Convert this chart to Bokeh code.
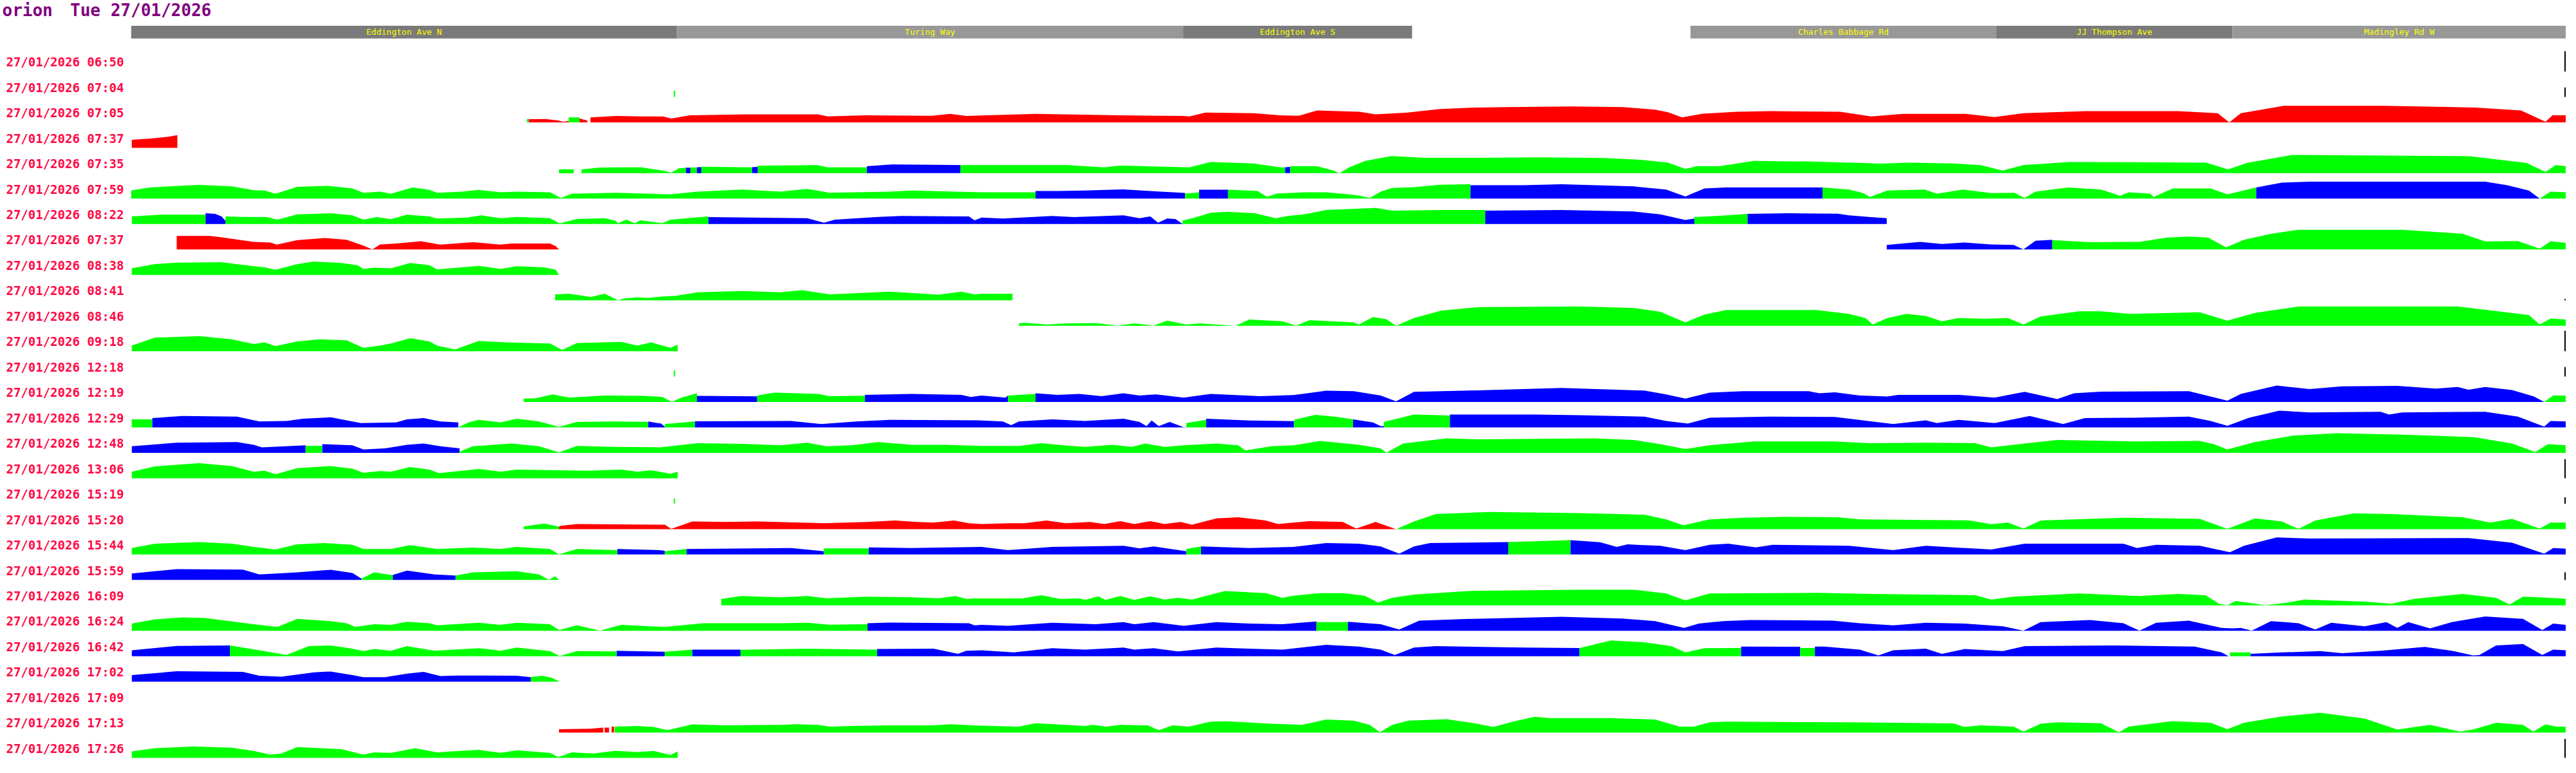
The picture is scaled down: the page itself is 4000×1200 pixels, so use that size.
from bokeh.plotting import figure
from bokeh.models import Range1d
from bokeh.core.properties import value
from bokeh.embed import file_html
from bokeh.resources import INLINE

TITLE_HOST = "orion"
TITLE_DATE = "Tue 27/01/2026"

ROADS = ["Eddington Ave N", "Turing Way", "Eddington Ave S",
         "Charles Babbage Rd", "JJ Thompson Ave", "Madingley Rd W"]
ROAD_START = [204, 1055, 1844, 2635, 3112, 3480]
ROAD_END = [1055, 1844, 2201, 3112, 3480, 4000]
ROAD_SHADE = ["dark", "light", "dark", "light", "dark", "light"]

TIMES = ["06:50", "07:04", "07:05", "07:37", "07:35", "07:59", "08:22", "07:37",
         "08:38", "08:41", "08:46", "09:18", "12:18", "12:19", "12:29", "12:48",
         "13:06", "15:19", "15:20", "15:44", "15:59", "16:09", "16:24", "16:42",
         "17:02", "17:09", "17:13", "17:26"]
DATE = "27/01/2026"

# height of the thin end-of-route marker drawn at the right edge for each row (0 = none)
EDGE_MARK = [32, 15, 0, 0, 0, 0, 0, 0, 0, 2, 0, 32, 15, 0, 0, 0,
             30, 10, 0, 0, 12, 0, 0, 0, 0, 0, 0, 30]

# each run: (colour, [(distance_px, height_px), ...])
ROW_0650 = []
ROW_0704 = [("g", [(1050, 10), (1052, 10)])]
ROW_0705 = [
    ("g", [(821, 5.3), (824, 5.3)]),
    ("r", [(824, 5), (850, 5.3), (870, 3), (877, 1), (886, 2)]),
    ("g", [(886, 7.7), (903, 7.7)]),
    ("r", [(903, 6), (915, 3)]),
    ("r", [(920, 7.7), (961, 10), (1000, 9.3), (1033, 9.3), (1046, 6), (1075, 11), (1166, 12.7),
           (1274, 12.7), (1290, 9.3), (1348, 11), (1452, 10.3), (1481, 13.3), (1506, 10), (1614, 13.3),
           (1746, 11), (1844, 10), (1854, 9.3), (1879, 15.3), (1954, 14.3), (1995, 11), (2024, 10.3),
           (2053, 18.7), (2119, 16.7), (2144, 12.7), (2194, 15.3), (2244, 21), (2300, 23.3), (2350, 24),
           (2450, 25), (2530, 24), (2580, 20), (2600, 16), (2622, 7.7), (2654, 13.7), (2707, 16.7),
           (2761, 17.7), (2868, 16.7), (2917, 9.3), (2966, 13.3), (3064, 13.3), (3109, 8.3), (3154, 14.3),
           (3252, 17.7), (3395, 17.7), (3457, 14.3), (3475, 0), (3493, 14.3), (3560, 26), (3716, 26),
           (3859, 23.3), (3930, 18.7), (3968, 1), (3979, 11), (4000, 11)]),
]
ROW_0737A = [("r", [(205, 12.7), (220, 13.5), (235, 14.5), (250, 16), (262, 17.5), (276, 20)])]
ROW_0735 = [
    ("g", [(871, 6), (894, 6)]),
    ("g", [(906, 6), (933, 8.7), (961, 9.3), (1000, 9.3), (1037, 3.3), (1046, 1), (1058, 7.7), (1069, 8.7)]),
    ("b", [(1069, 8.7), (1076, 8.7)]),
    ("g", [(1076, 9), (1086, 9)]),
    ("b", [(1086, 9.5), (1093, 9.5)]),
    ("g", [(1093, 10.3), (1166, 9.3), (1172, 9.5)]),
    ("b", [(1172, 9.5), (1181, 10)]),
    ("g", [(1181, 11.7), (1274, 12.7), (1290, 9.3), (1351, 9.3)]),
    ("b", [(1351, 11), (1390, 13.7), (1450, 13.3), (1497, 12.7)]),
    ("g", [(1497, 12.7), (1663, 12.7), (1721, 9.3), (1746, 12), (1854, 9.3), (1887, 17.7), (1954, 15.3),
           (1995, 9.3), (2003, 9.3)]),
    ("b", [(2003, 9.3), (2011, 10)]),
    ("g", [(2011, 11), (2053, 11), (2078, 4.3), (2088, 0), (2103, 9.3), (2128, 19.3), (2169, 27),
           (2219, 24.3), (2300, 24.3), (2400, 25), (2500, 24), (2560, 21), (2600, 16.7), (2627, 6.7),
           (2645, 11), (2680, 11), (2734, 19.3), (2823, 18.3), (2904, 16), (2930, 15), (2975, 16.7),
           (3046, 15.3), (3087, 12.7), (3122, 4.3), (3154, 12.7), (3225, 17.7), (3439, 16.7), (3473, 6),
           (3502, 16), (3573, 28.7), (3850, 26.7), (3939, 16), (3968, 2), (3984, 12.7), (4000, 11)]),
]
ROW_0759 = [
    ("g", [(204, 12.7), (233, 17.7), (310, 21.7), (361, 19.3), (395, 13.3), (412, 12.7), (429, 7.7),
           (463, 18.7), (510, 20), (549, 16), (566, 9.3), (592, 11), (609, 7.7), (643, 17.7), (668, 14),
           (681, 9.3), (720, 11), (745, 13.7), (780, 10), (805, 11), (857, 10), (874, 1), (891, 7.7),
           (959, 9.3), (1045, 6.7), (1087, 11), (1156, 14.3), (1216, 11), (1258, 15.3), (1293, 9.3),
           (1387, 11), (1421, 12.7), (1489, 11), (1530, 10), (1571, 10), (1614, 10)]),
    ("b", [(1614, 12), (1650, 12), (1691, 12.7), (1750, 14.5), (1776, 13), (1800, 11.5), (1847, 9)]),
    ("g", [(1847, 8), (1869, 10)]),
    ("b", [(1869, 14), (1914, 14)]),
    ("g", [(1914, 14), (1960, 12), (1975, 3), (1990, 8), (2033, 10), (2067, 10), (2100, 7), (2118, 5),
           (2135, 1), (2152, 11), (2170, 16.7), (2204, 18), (2246, 22), (2292, 22.7)]),
    ("b", [(2292, 21), (2375, 21), (2434, 22.7), (2546, 19.3), (2597, 14.3), (2627, 3.3), (2657, 16),
           (2690, 17.7), (2841, 17.7)]),
    ("g", [(2841, 17.7), (2882, 14.3), (2903, 9.3), (2915, 2.7), (2942, 12.7), (3000, 14.3), (3019, 7.7),
           (3060, 14.3), (3104, 8.7), (3140, 9.3), (3156, 1), (3173, 11), (3224, 17.7), (3275, 14.3),
           (3305, 4.3), (3318, 10), (3352, 7.7), (3357, 2.7), (3387, 16), (3446, 16), (3472, 6.7),
           (3517, 17.7)]),
    ("b", [(3517, 17.7), (3557, 25.3), (3600, 26.7), (3874, 26.7), (3908, 21), (3942, 12.7), (3959, 0)]),
    ("g", [(3959, 0), (3976, 11), (4000, 10)]),
]
ROW_0822 = [
    ("g", [(205, 12), (250, 14.7), (320, 14.7)]),
    ("b", [(320, 17), (335, 16), (345, 12), (351, 5)]),
    ("g", [(351, 12), (378, 11.3), (416, 11), (432, 7), (463, 15.3), (515, 17), (549, 13.7), (566, 7),
           (587, 11), (609, 7.7), (634, 14.7), (669, 12), (681, 8.7), (728, 10.3), (750, 13.7), (780, 9.3),
           (805, 11.3), (857, 9.3), (872, 1), (899, 8), (942, 9.3), (959, 5.3), (963, 1.3), (976, 7),
           (989, 1.3), (998, 6), (1032, 1.3), (1045, 7), (1104, 12)]),
    ("b", [(1104, 11), (1258, 9.3), (1284, 2), (1301, 7), (1369, 11.3), (1404, 12.7), (1510, 12),
           (1519, 6), (1530, 10.3), (1563, 8.7), (1640, 12.7), (1674, 11), (1751, 13.7), (1776, 9.3),
           (1793, 12), (1805, 2), (1819, 8.7), (1832, 8), (1843, 0.3)]),
    ("g", [(1843, 5.3), (1862, 10.3), (1887, 17.7), (1913, 19.3), (1956, 17), (1988, 9.3), (2007, 12.7),
           (2033, 15.3), (2067, 22), (2144, 25.3), (2170, 21), (2246, 22), (2315, 22)]),
    ("b", [(2315, 21), (2434, 22), (2546, 19.7), (2588, 15.3), (2627, 6.3), (2641, 8.7)]),
    ("g", [(2641, 11), (2680, 13), (2724, 16)]),
    ("b", [(2724, 16), (2788, 17), (2865, 16.3), (2882, 13.7), (2916, 11), (2941, 9.3)]),
]
ROW_0737B = [
    ("r", [(275, 21.3), (327, 21.3), (344, 19.3), (395, 12), (421, 11), (431, 7.7), (463, 14.7), (506, 18),
           (540, 15.3), (566, 6), (580, 0), (592, 8), (617, 9.3), (656, 13), (686, 7.7), (737, 11.3),
           (780, 7.7), (797, 9.3), (857, 9.3), (866, 5), (871, 0)]),
    ("b", [(2941, 7), (2993, 12), (3027, 8.7), (3062, 11), (3104, 8), (3139, 7), (3154, 0), (3173, 13.7),
           (3199, 15.3)]),
    ("g", [(3199, 14.7), (3258, 11.3), (3335, 12), (3378, 18.7), (3412, 20.3), (3442, 18.7), (3470, 3.3),
           (3498, 15.3), (3540, 24.7), (3583, 31), (3745, 31), (3839, 24.7), (3874, 12.7), (3925, 13.3),
           (3959, 1.3), (3976, 13), (4000, 10.3)]),
]
ROW_0838 = [
    ("g", [(205, 10.3), (241, 17), (275, 19.3), (344, 20), (387, 14.7), (412, 12), (429, 8), (463, 17),
           (489, 21), (532, 18.7), (557, 15.3), (566, 9.3), (583, 11.3), (609, 10.3), (639, 18.7),
           (669, 15.3), (681, 8.7), (746, 14.3), (780, 9.3), (805, 13.7), (848, 12), (866, 8), (871, 0)]),
]
ROW_0841 = [
    ("g", [(865, 9.3), (887, 10.3), (921, 5.3), (942, 10.3), (963, 0.3), (972, 2.7), (993, 4.7),
           (1010, 3.7), (1032, 6), (1053, 7), (1087, 12.7), (1156, 14.7), (1216, 12.7), (1250, 16),
           (1293, 9.3), (1387, 13.7), (1463, 8.7), (1498, 13.7), (1519, 9.3), (1530, 10.3), (1578, 10.3)]),
]
ROW_0846 = [
    ("g", [(1588, 3.7), (1597, 4.7), (1631, 2), (1665, 3.7), (1708, 4.3), (1742, 0.3), (1768, 3.7),
           (1798, 0.3), (1819, 8), (1849, 2), (1870, 3.7), (1926, 0), (1947, 9.7), (1999, 7), (2020, 0.3),
           (2041, 8.7), (2110, 5.3), (2118, 2), (2140, 13.7), (2161, 10.3), (2176, 0), (2204, 12),
           (2246, 23.7), (2306, 29.3), (2460, 30.3), (2546, 28), (2588, 22), (2627, 5.3), (2657, 17.7),
           (2691, 24.7), (2831, 24.7), (2882, 18.7), (2908, 12), (2919, 2), (2942, 12), (2972, 18.7),
           (3002, 15.3), (3027, 7), (3053, 12), (3096, 11), (3130, 12), (3154, 2), (3181, 14.7),
           (3241, 22.7), (3275, 22.7), (3318, 18.7), (3429, 21.3), (3472, 8), (3515, 20.3), (3583, 30.3),
           (3831, 30.3), (3942, 17), (3959, 2), (3976, 11.3), (4000, 9.7)]),
]
ROW_0918 = [
    ("g", [(205, 8.7), (241, 21.3), (310, 23.7), (361, 18.7), (395, 11.3), (412, 13.7), (429, 8),
           (463, 15.3), (498, 18.7), (540, 17), (566, 5.3), (592, 8.7), (609, 12), (639, 20.3), (669, 15.3),
           (681, 8.7), (709, 2.7), (746, 16), (788, 13.7), (857, 12), (876, 2), (899, 12.7), (968, 14.7),
           (993, 8.7), (1015, 13.7), (1045, 5.3), (1056, 10.3)]),
]
ROW_1218 = [("g", [(1050, 10), (1052, 10)])]
ROW_1219 = [
    ("g", [(816, 5.3), (835, 6), (861, 12), (887, 7), (942, 10.3), (1002, 9.7), (1032, 8), (1047, 0),
           (1062, 7), (1086, 13.7)]),
    ("b", [(1086, 9.7), (1180, 9)]),
    ("g", [(1180, 10.3), (1207, 14.7), (1275, 12.7), (1293, 9.3), (1348, 10)]),
    ("b", [(1348, 11.3), (1421, 12.7), (1498, 11.3), (1513, 8), (1530, 10.3), (1567, 7), (1571, 10.3)]),
    ("g", [(1571, 10.3), (1614, 12.7)]),
    ("b", [(1614, 13.7), (1648, 11.3), (1682, 12.7), (1717, 9.3), (1751, 13.7), (1776, 10.3), (1802, 12),
           (1845, 7), (1887, 12.7), (1964, 9.3), (2016, 11), (2067, 17.7), (2110, 17), (2152, 10.3),
           (2176, 1), (2204, 16), (2289, 18), (2434, 22), (2563, 18), (2597, 12), (2627, 5.3), (2665, 14.7),
           (2717, 17), (2819, 17), (2836, 13.7), (2860, 15.3), (2899, 10.3), (2942, 8.7), (2959, 11.3),
           (3053, 11.3), (3109, 7), (3156, 16), (3207, 4.7), (3233, 13.7), (3275, 16.3), (3412, 17),
           (3459, 5.3), (3472, 2), (3493, 12.7), (3549, 26), (3600, 20.3), (3651, 24.7), (3737, 25.3),
           (3797, 21), (3831, 23.7), (3848, 19.3), (3874, 23.7), (3916, 18.7), (3950, 8.7), (3966, 0)]),
    ("g", [(3966, 0), (3980, 10.3), (4000, 10.3)]),
]
ROW_1229 = [
    ("g", [(205, 12.7), (237, 12.7)]),
    ("b", [(237, 14.7), (284, 18), (369, 17), (404, 9.3), (446, 10.3), (472, 13.7), (515, 16), (562, 7),
           (617, 8), (634, 12.7), (660, 14.7), (686, 9.3), (714, 8)]),
    ("g", [(714, 0.3), (730, 8), (746, 12), (780, 8), (805, 13.7), (840, 9.3), (871, 0.7), (899, 8.7),
           (959, 9.3), (1010, 8.7)]),
    ("b", [(1010, 9.3), (1030, 6), (1036, 1)]),
    ("g", [(1036, 5.3), (1083, 9.3)]),
    ("b", [(1083, 9.7), (1233, 10.3), (1280, 5.3), (1335, 9.3), (1387, 12), (1523, 11.3), (1563, 9.3),
           (1576, 3.7), (1588, 9.3), (1640, 12.7), (1691, 10.3), (1751, 13.7), (1776, 8.7), (1787, 2),
           (1795, 11), (1806, 2), (1823, 8.7), (1845, 0.3), (1849, 0.3)]),
    ("g", [(1849, 7), (1880, 12)]),
    ("b", [(1880, 13.7), (1947, 11), (2017, 10)]),
    ("g", [(2017, 12), (2050, 19.7), (2080, 17), (2109, 12.7)]),
    ("b", [(2109, 12.7), (2140, 8), (2152, 2), (2157, 2)]),
    ("g", [(2157, 8.7), (2204, 20.3), (2260, 18.7)]),
    ("b", [(2260, 20.3), (2392, 20.3), (2460, 19.3), (2563, 17), (2597, 10.3), (2631, 6), (2665, 15.3),
           (2759, 17), (2860, 16.5), (2891, 12.7), (2951, 5.3), (3002, 11.3), (3019, 7), (3053, 12),
           (3109, 7), (3164, 18), (3216, 5.3), (3250, 14.7), (3327, 15.3), (3412, 17), (3446, 10.3),
           (3472, 2.7), (3506, 15.3), (3553, 26.3), (3600, 23.7), (3711, 24.7), (3724, 20.3), (3745, 23.7),
           (3874, 24.7), (3925, 17), (3966, 1.3), (3976, 10.3), (4000, 9.3)]),
]
ROW_1248 = [
    ("b", [(205, 10.3), (275, 16), (369, 17), (395, 12.7), (408, 8.7), (476, 12)]),
    ("g", [(476, 11), (502, 11)]),
    ("b", [(502, 13.7), (549, 12), (566, 5.3), (600, 7), (634, 12.7), (660, 14.7), (686, 10.3), (716, 7)]),
    ("g", [(716, 2), (737, 10.3), (797, 14.7), (840, 10.3), (871, 0.7), (899, 11), (959, 9.3), (1028, 8.7),
           (1087, 15.3), (1156, 14.3), (1216, 12), (1258, 16), (1288, 10.3), (1327, 12), (1369, 17),
           (1421, 12.7), (1472, 12.7), (1530, 11), (1588, 11), (1623, 15.3), (1657, 12), (1691, 9.3),
           (1734, 12.7), (1764, 9.3), (1785, 14.7), (1815, 9.3), (1845, 12), (1896, 14.7), (1930, 12),
           (1941, 3.7), (1982, 10.3), (2016, 12), (2058, 18.7), (2118, 12.7), (2152, 7), (2161, 0.3),
           (2187, 14.7), (2255, 22.7), (2306, 21.3), (2486, 22.7), (2546, 20.3), (2588, 13.7), (2627, 6),
           (2665, 12), (2734, 18), (2857, 18), (2916, 15.3), (3002, 16), (3079, 15.3), (3104, 8.7),
           (3156, 14.7), (3207, 20.3), (3327, 18), (3429, 18.7), (3451, 13.7), (3472, 5.3), (3515, 17),
           (3574, 27), (3643, 31), (3745, 28.7), (3857, 24.7), (3916, 14.7), (3952, 1.3), (3972, 13.7),
           (4000, 12)]),
]
ROW_1306 = [
    ("g", [(205, 10.3), (241, 18.7), (310, 23.7), (361, 19.3), (395, 10.3), (412, 12), (429, 6.3),
           (463, 16), (515, 19.3), (549, 15.3), (566, 8.7), (592, 11.3), (609, 10.3), (639, 17.7),
           (669, 13.7), (684, 8), (746, 14.7), (780, 10.3), (805, 13.7), (916, 12), (968, 13.7), (993, 10.3),
           (1015, 12.7), (1045, 7), (1056, 10.3)]),
]
ROW_1519 = [("g", [(1050, 8), (1052, 8)])]
ROW_1520 = [
    ("g", [(816, 4.3), (848, 8.7), (865, 5.3), (871, 4)]),
    ("r", [(871, 4), (874, 5.3), (899, 8), (1036, 7), (1046, 0.3), (1079, 12), (1130, 11.3), (1181, 12),
           (1284, 9.3), (1352, 11.3), (1395, 13.7), (1429, 11.3), (1455, 10.3), (1487, 13.7), (1510, 9.3),
           (1530, 8), (1571, 9.3), (1597, 9.3), (1631, 13.7), (1661, 9.3), (1699, 11.3), (1721, 8),
           (1746, 12.7), (1768, 8), (1793, 12.7), (1815, 8), (1840, 11.3), (1858, 7), (1896, 17),
           (1930, 18.7), (1973, 13.7), (1992, 8), (2016, 10.3), (2041, 12.7), (2093, 11.3), (2114, 1),
           (2144, 11.3), (2176, 0)]),
    ("g", [(2176, 0), (2204, 12), (2238, 23.7), (2323, 27), (2460, 25.3), (2563, 22.7), (2597, 15.3),
           (2624, 6), (2665, 15.3), (2717, 18), (2788, 19.3), (2865, 18.7), (2899, 15.3), (3070, 13.7),
           (3104, 7.7), (3130, 10.3), (3154, 1), (3181, 13.7), (3310, 18), (3429, 16), (3472, 0.3),
           (3515, 17), (3557, 12), (3583, 0.3), (3609, 13.7), (3669, 24.7), (3728, 23.7), (3839, 18.7),
           (3882, 10.3), (3916, 16), (3959, 1), (3976, 10.3), (4000, 10.3)]),
]
ROW_1544 = [
    ("g", [(205, 10.3), (241, 17), (310, 19.7), (361, 17), (395, 12), (429, 8), (463, 16), (506, 18),
           (549, 15.3), (566, 8.7), (609, 8.7), (639, 14.7), (681, 8.7), (737, 11), (780, 8.7), (805, 12),
           (857, 8.7), (871, 0.3), (899, 8.7), (962, 7)]),
    ("b", [(962, 8.7), (1028, 7), (1036, 6)]),
    ("g", [(1036, 5.3), (1070, 8.7)]),
    ("b", [(1070, 8.7), (1233, 10.3), (1284, 5.3)]),
    ("g", [(1284, 9.7), (1354, 9.7)]),
    ("b", [(1354, 11.3), (1421, 10.3), (1530, 12), (1571, 7), (1640, 12), (1751, 13.7), (1776, 9.7),
           (1798, 12.7), (1849, 5.3)]),
    ("g", [(1849, 8.7), (1872, 12.7)]),
    ("b", [(1872, 12.7), (1947, 10.3), (2016, 12), (2067, 18), (2118, 17), (2152, 12.7), (2181, 1.3),
           (2204, 12.7), (2229, 18), (2351, 19.7)]),
    ("g", [(2351, 19.7), (2448, 22.7)]),
    ("b", [(2448, 22.7), (2494, 19.3), (2520, 12), (2537, 16), (2588, 13.7), (2627, 7), (2665, 15.3),
           (2694, 17), (2737, 11.3), (2763, 15.3), (2882, 13.7), (2951, 7), (3002, 13.7), (3104, 8),
           (3156, 17), (3310, 17), (3331, 10.3), (3361, 15.3), (3429, 13.7), (3476, 3.7), (3498, 13.7),
           (3549, 27), (3600, 25.3), (3848, 26), (3916, 18.7), (3966, 1.3), (3980, 10.3), (4000, 9.3)]),
]
ROW_1559 = [
    ("b", [(205, 10.3), (275, 17), (378, 16.3), (404, 8.7), (463, 12), (515, 16), (549, 11), (563, 2)]),
    ("g", [(563, 2), (583, 12), (609, 8), (612, 8)]),
    ("b", [(612, 8), (634, 14.7), (677, 8.7), (710, 7)]),
    ("g", [(710, 7), (737, 12), (805, 13.7), (840, 8.7), (855, 0.3), (865, 6), (871, 0)]),
]
ROW_1609 = [
    ("g", [(1124, 10.3), (1156, 14.7), (1216, 12.7), (1258, 14.7), (1288, 11.3), (1352, 13.7),
           (1421, 12.7), (1463, 11.3), (1489, 14.7), (1506, 10.3), (1520, 11), (1593, 11), (1623, 16),
           (1652, 10.3), (1682, 11), (1691, 8.7), (1712, 14.3), (1723, 8.7), (1746, 14.7), (1768, 8.7),
           (1793, 14.3), (1815, 9.3), (1836, 12), (1858, 9.3), (1909, 22.7), (1973, 19.3), (1999, 12),
           (2016, 15.3), (2058, 19.3), (2093, 19.3), (2127, 15.3), (2148, 4.3), (2170, 12), (2204, 17),
           (2289, 22.7), (2460, 24.7), (2546, 24.7), (2597, 18.7), (2627, 8), (2665, 18.7), (2831, 19.7),
           (2916, 18), (3079, 16), (3104, 9.3), (3139, 13.7), (3241, 18.7), (3335, 14.7), (3395, 18),
           (3438, 16), (3459, 2.7), (3472, 0.3), (3485, 7), (3532, 0.3), (3566, 4.3), (3592, 9.3),
           (3686, 6), (3728, 2.7), (3763, 10.3), (3839, 18), (3891, 12), (3912, 1.3), (3933, 13.7),
           (3959, 12.7), (4000, 10.3)]),
]
ROW_1624 = [
    ("g", [(205, 11.3), (241, 18), (284, 21), (318, 20.3), (395, 10.3), (432, 6), (463, 18.7), (515, 15.3),
           (540, 12), (553, 6), (583, 10.3), (609, 9.3), (634, 14.3), (669, 12), (681, 8.7), (746, 12.7),
           (780, 9.3), (805, 12.7), (857, 10.3), (871, 1.3), (899, 8.7), (935, 0.3), (968, 9.3), (1036, 6),
           (1096, 12), (1216, 12), (1258, 12.7), (1293, 9.7), (1352, 10.3)]),
    ("b", [(1352, 12), (1387, 13), (1510, 12), (1519, 8.7), (1530, 9.5), (1571, 8), (1640, 12.7),
           (1708, 10.3), (1751, 13.7), (1768, 10.3), (1798, 13.7), (1845, 8), (1896, 13.7), (1947, 11.3),
           (1999, 10.3), (2052, 14.7)]),
    ("g", [(2052, 13.7), (2101, 13.7)]),
    ("b", [(2101, 14.3), (2152, 10.3), (2181, 2), (2212, 16), (2289, 18.7), (2434, 22), (2529, 19.3),
           (2580, 15.3), (2625, 4.7), (2648, 11.3), (2670, 13.7), (2686, 15.3), (2728, 17), (2857, 16),
           (2899, 12), (2951, 8.7), (3002, 12.7), (3062, 11.3), (3122, 7), (3154, 0.3), (3181, 13.7),
           (3258, 17), (3310, 12), (3335, 0.3), (3361, 12.7), (3412, 16), (3463, 4.7), (3480, 3.7),
           (3493, 4.7), (3510, 0.3), (3540, 15.3), (3583, 12), (3609, 2), (3634, 12.7), (3686, 7),
           (3720, 13.7), (3737, 4.7), (3754, 13.7), (3788, 3.7), (3822, 13.7), (3874, 22.7), (3933, 18.7),
           (3963, 1.3), (3980, 11.3), (4000, 9.3)]),
]
ROW_1642 = [
    ("b", [(205, 9.3), (275, 16.3), (358, 17)]),
    ("g", [(358, 17), (404, 9.3), (446, 2), (481, 16), (515, 17), (549, 12), (566, 8), (583, 11.3),
           (609, 8.7), (634, 16), (677, 8.7), (746, 12.7), (780, 8.7), (805, 13.7), (857, 8), (872, 0.3),
           (899, 8), (961, 7.7)]),
    ("b", [(961, 8.7), (1036, 7)]),
    ("g", [(1036, 7), (1079, 10.3)]),
    ("b", [(1079, 10.3), (1154, 10.3)]),
    ("g", [(1154, 10), (1258, 12), (1367, 10.3)]),
    ("b", [(1367, 11.3), (1455, 12), (1493, 3.7), (1506, 8.7), (1530, 9.3), (1580, 6), (1640, 12.7),
           (1691, 10.3), (1751, 13.7), (1768, 10.3), (1798, 12.7), (1836, 7.7), (1896, 13.7), (1947, 12),
           (1999, 10.3), (2067, 18), (2118, 15.3), (2152, 10.3), (2174, 2), (2204, 13.7), (2238, 16),
           (2375, 13.7), (2462, 13)]),
    ("g", [(2462, 13), (2511, 24.7), (2563, 22), (2605, 16), (2627, 6), (2657, 12.7), (2714, 13)]),
    ("b", [(2714, 15.3), (2806, 15)]),
    ("g", [(2806, 13), (2829, 13)]),
    ("b", [(2829, 15.3), (2844, 15.3), (2899, 10.3), (2928, 1.3), (2951, 9.3), (3002, 12), (3027, 3.7),
           (3062, 11.3), (3122, 8), (3156, 16), (3292, 17), (3421, 15.3), (3463, 6), (3474, 0)]),
    ("g", [(3476, 6), (3508, 6)]),
    ("b", [(3508, 3.7), (3557, 6), (3617, 8), (3651, 4.7), (3711, 8.7), (3780, 14.7), (3822, 8.7),
           (3855, 1.3), (3865, 2), (3891, 17), (3933, 19.3), (3963, 2), (3980, 10.3), (4000, 9.3)]),
]
ROW_1702 = [
    ("b", [(205, 10.3), (275, 16.3), (378, 15.3), (404, 9.3), (438, 7.7), (489, 14.7), (515, 16),
           (549, 10.3), (566, 7), (600, 7), (634, 12.7), (660, 15.3), (686, 8.7), (711, 9.7), (805, 9.3),
           (827, 7)]),
    ("g", [(827, 7), (844, 9.3), (860, 6), (872, 0)]),
]
ROW_1709 = []
ROW_1713 = [
    ("r", [(871, 5.3), (920, 6), (940, 7.7)]),
    ("r", [(942, 7.7), (949, 7.7)]),
    ("r", [(953, 9.3), (957, 9.3)]),
    ("g", [(958, 9.3), (993, 10.3), (1019, 8.7), (1040, 3.7), (1079, 12.7), (1130, 11.3), (1216, 12),
           (1241, 13), (1275, 12), (1293, 9.3), (1327, 10.3), (1387, 11.3), (1455, 11.3), (1481, 13),
           (1520, 11), (1588, 9.3), (1614, 14.7), (1648, 12.7), (1691, 10.3), (1704, 12), (1725, 9.3),
           (1746, 12), (1776, 11.3), (1789, 11.3), (1806, 3.7), (1828, 11.3), (1853, 9.3), (1887, 17),
           (1913, 17.7), (1982, 13.7), (2029, 12), (2067, 20.3), (2110, 18.7), (2135, 12), (2151, 0.3),
           (2170, 12), (2195, 18.7), (2255, 21), (2298, 14.7), (2328, 8.7), (2358, 17), (2392, 24.7),
           (2417, 22.7), (2511, 22.7), (2580, 20.3), (2618, 9.3), (2640, 9.3), (2665, 16), (2691, 17),
           (2882, 16), (3045, 14.3), (3062, 8.7), (3087, 11.3), (3139, 9.3), (3154, 1.3), (3181, 13.7),
           (3207, 16), (3275, 14.7), (3303, 0.3), (3318, 9.3), (3386, 18), (3446, 15.3), (3472, 5.3),
           (3498, 15.3), (3557, 25.3), (3617, 31), (3686, 22), (3737, 4.7), (3788, 12), (3835, 1.3),
           (3857, 5.3), (3891, 15.3), (3933, 12), (3949, 1.3), (3968, 12.7), (3985, 9.3), (4000, 9.3)]),
]
ROW_1726 = [
    ("g", [(205, 10.3), (241, 15.3), (301, 18), (361, 16), (395, 11), (421, 5.3), (438, 7), (463, 17),
           (532, 13.7), (566, 5.3), (583, 8.7), (609, 8), (647, 15.3), (681, 8.7), (703, 10.3), (746, 12.7),
           (780, 8), (805, 12), (857, 8), (870, 1.3), (891, 8.7), (925, 7), (959, 11.3), (993, 9.3),
           (1019, 11), (1045, 4.7), (1056, 10.3)]),
]

ROWS = [ROW_0650, ROW_0704, ROW_0705, ROW_0737A, ROW_0735, ROW_0759, ROW_0822, ROW_0737B,
        ROW_0838, ROW_0841, ROW_0846, ROW_0918, ROW_1218, ROW_1219, ROW_1229, ROW_1248,
        ROW_1306, ROW_1519, ROW_1520, ROW_1544, ROW_1559, ROW_1609, ROW_1624, ROW_1642,
        ROW_1702, ROW_1709, ROW_1713, ROW_1726]

# ---------------- styling / layout ----------------
COLORS = {"r": "#ff0000", "g": "#00ff00", "b": "#0000ff"}
SHADES = {"dark": "#7a7a7a", "light": "#989898"}
W, H = 3984, 1184
ROW_PITCH = 40
LABEL_Y0 = 97
BASE_OFFSET = 15
MONO = "DejaVu Sans Mono"

p = figure(width=W, height=H, output_backend="svg", toolbar_location=None,
           x_range=Range1d(0, 4000), y_range=Range1d(1200, 0),
           x_axis_location=None, y_axis_location=None, min_border=0)
p.grid.visible = False
p.outline_line_color = None
p.background_fill_color = "white"
p.border_fill_color = "white"

# title (two pieces to keep the wide gap between host and date)
p.text(x=[3, 109], y=[16, 16], text=[TITLE_HOST, TITLE_DATE], text_font=value(MONO),
       text_font_size="26px", text_font_style="bold", text_color="#800080",
       text_align="left", text_baseline="middle")

# road header
p.quad(left=ROAD_START, right=ROAD_END, top=[40] * len(ROADS), bottom=[60] * len(ROADS),
       fill_color=[SHADES[s] for s in ROAD_SHADE], line_color=None)
p.text(x=[(a + b) / 2 for a, b in zip(ROAD_START, ROAD_END)], y=[50] * len(ROADS), text=ROADS,
       text_font=value(MONO), text_font_size="13px", text_color="#ffff00",
       text_align="center", text_baseline="middle")

# row labels
label_y = [LABEL_Y0 + ROW_PITCH * i for i in range(len(TIMES))]
p.text(x=[9] * len(TIMES), y=label_y, text=[f"{DATE} {t}" for t in TIMES],
       text_font=value(MONO), text_font_size="19px", text_font_style="bold",
       text_color="#ff0a45", text_align="left", text_baseline="middle")

# profiles
for i, row in enumerate(ROWS):
    base = LABEL_Y0 + ROW_PITCH * i + BASE_OFFSET
    for col, pts in row:
        xs = [pt[0] for pt in pts]
        tops = [base - pt[1] for pt in pts]
        p.varea(x=xs, y1=[base] * len(xs), y2=tops, fill_color=COLORS[col])

# thin end markers at the right edge
mk_base = [LABEL_Y0 + ROW_PITCH * i + BASE_OFFSET for i, h in enumerate(EDGE_MARK) if h > 0]
mk_h = [h for h in EDGE_MARK if h > 0]
p.quad(left=[3997.5] * len(mk_h), right=[4000] * len(mk_h), bottom=mk_base,
       top=[b - h for b, h in zip(mk_base, mk_h)], fill_color="#000000", line_color=None)

open("out.html", "w").write(file_html(p, INLINE))
